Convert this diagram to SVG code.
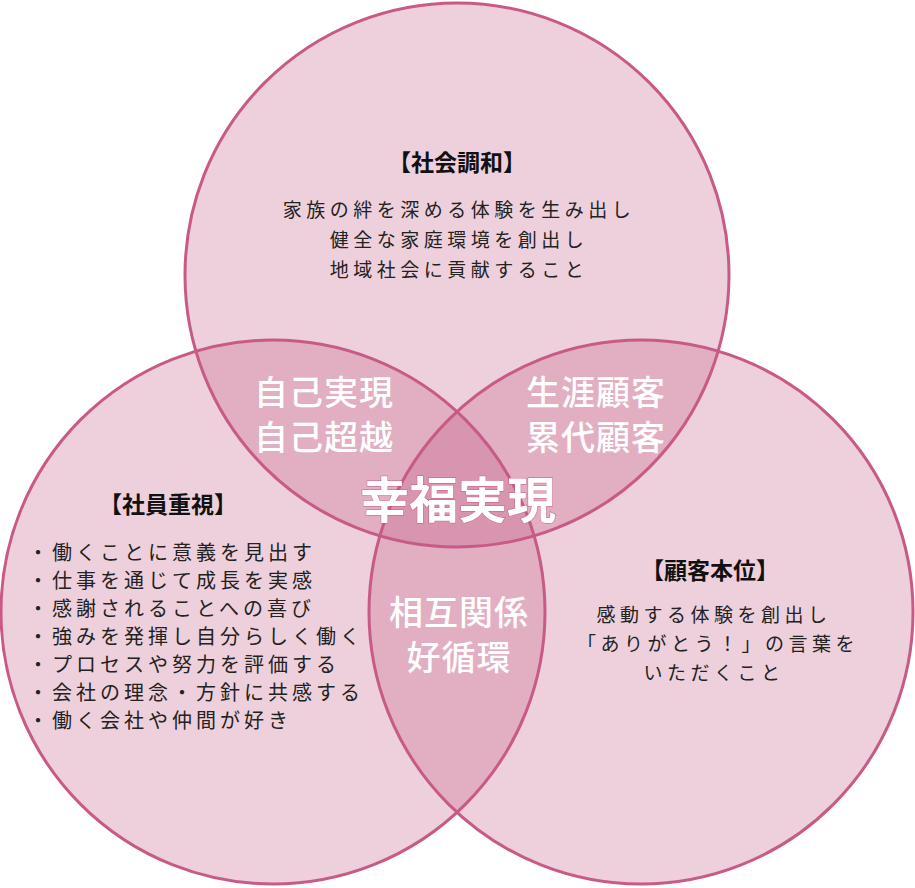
<svg xmlns="http://www.w3.org/2000/svg" width="915" height="888" viewBox="0 0 915 888">
<style>
.f{fill:rgb(194,87,130);fill-opacity:0.28}
.s{fill:none;stroke:#c85a87;stroke-width:3}
text{font-family:"Noto Sans CJK JP",sans-serif}
.h{font-size:23px;font-weight:bold;fill:#111;text-anchor:middle}
.t{font-size:19px;fill:#222;letter-spacing:4.5px}
.l{font-size:20px;fill:#222;letter-spacing:4px}
.c{text-anchor:middle}
.w{font-size:34px;fill:#fff;font-weight:500;text-anchor:middle;letter-spacing:1px}
.b{font-size:49px;fill:#fff;font-weight:bold;text-anchor:middle;stroke:#c85a87;stroke-width:1;paint-order:stroke}
</style>
<rect width="915" height="888" fill="#fff"/>
<g id="circles-fill">
<circle class="f" cx="457" cy="275" r="272"/>
<circle class="f" cx="273" cy="612" r="272"/>
<circle class="f" cx="641" cy="612" r="272"/>
</g>
<g id="node-top">
<circle class="s" cx="457" cy="275" r="272"/>
<text class="h" x="457" y="171">【社会調和】</text>
<text class="t c" x="459" y="217">家族の絆を深める体験を生み出し</text>
<text class="t c" x="459" y="247">健全な家庭環境を創出し</text>
<text class="t c" x="459" y="277">地域社会に貢献すること</text>
</g>
<g id="node-left">
<circle class="s" cx="273" cy="612" r="272"/>
<text class="h" x="168" y="513">【社員重視】</text>
<text class="l" x="28" y="560">・働くことに意義を見出す</text>
<text class="l" x="28" y="588">・仕事を通じて成長を実感</text>
<text class="l" x="28" y="616">・感謝されることへの喜び</text>
<text class="l" x="28" y="644">・強みを発揮し自分らしく働く</text>
<text class="l" x="28" y="672">・プロセスや努力を評価する</text>
<text class="l" x="28" y="700">・会社の理念・方針に共感する</text>
<text class="l" x="28" y="728">・働く会社や仲間が好き</text>
</g>
<g id="node-right">
<circle class="s" cx="641" cy="612" r="272"/>
<text class="h" x="710" y="579">【顧客本位】</text>
<text class="t c" x="714" y="622">感動する体験を創出し</text>
<text class="t c" x="718" y="651">「ありがとう！」の言葉を</text>
<text class="t c" x="714" y="680">いただくこと</text>
</g>
<g id="overlaps">
<text class="w" x="324" y="405">自己実現</text>
<text class="w" x="324" y="450">自己超越</text>
<text class="w" x="596" y="405">生涯顧客</text>
<text class="w" x="596" y="450">累代顧客</text>
<text class="w" x="459" y="625">相互関係</text>
<text class="w" x="459" y="670">好循環</text>
<text class="b" x="458" y="518">幸福実現</text>
</g>
</svg>
